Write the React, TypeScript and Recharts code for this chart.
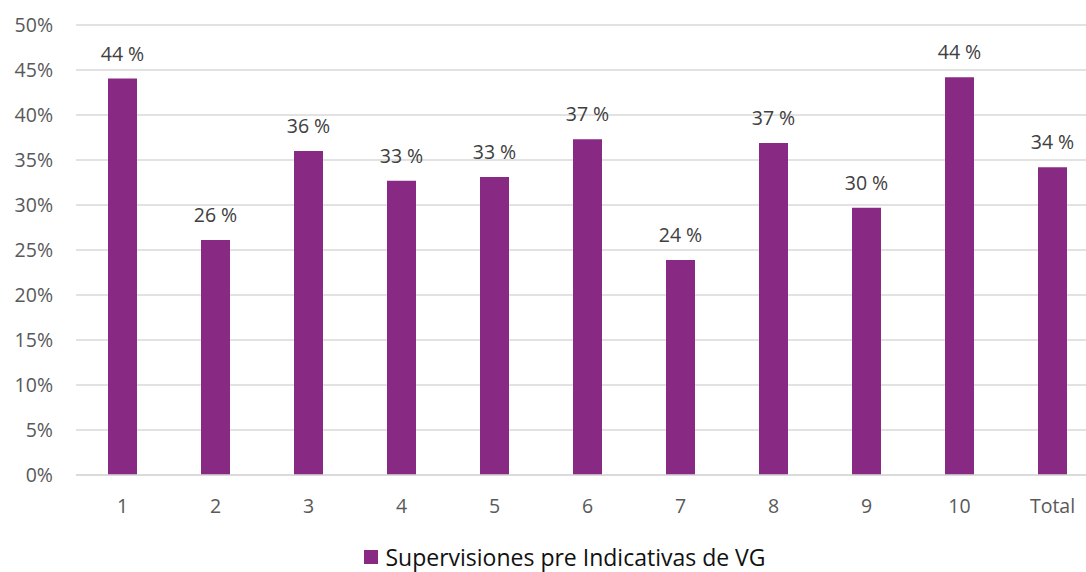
import { Bar, BarChart, CartesianGrid, LabelList, Legend, XAxis, YAxis } from "recharts"

const categories = ["1", "2", "3", "4", "5", "6", "7", "8", "9", "10", "Total"]
const supervisiones = [44.05, 26.1, 36.0, 32.7, 33.1, 37.3, 23.9, 36.9, 29.7, 44.2, 34.2]
const yTicks = [0, 5, 10, 15, 20, 25, 30, 35, 40, 45, 50]

const seriesName = "Supervisiones pre Indicativas de VG"
const barColor = "#882A84"
const font = "'Open Sans', sans-serif"

const data = categories.map((c, i) => ({ name: c, value: supervisiones[i] }))

function LegendBox() {
  return (
    <div
      style={{
        display: "flex",
        justifyContent: "center",
        alignItems: "center",
        height: 40,
        paddingTop: 9,
        boxSizing: "border-box",
        fontFamily: font,
        fontSize: 23,
        color: "#111",
      }}
    >
      <span style={{ display: "inline-block", width: 14, height: 14, background: barColor, marginRight: 7 }} />
      <span>{seriesName}</span>
    </div>
  )
}

function ValueLabel(props: any) {
  const { x, y, width, value } = props
  return (
    <text
      x={Number(x) + Number(width) / 2}
      y={Number(y) - 18}
      textAnchor="middle"
      fill="#404040"
      fontSize={19.5}
      fontFamily={font}
    >
      {`${Math.round(Number(value))} %`}
    </text>
  )
}

export default function App() {
  return (
    <div style={{ position: "absolute", left: 0, top: 0, width: 1086, height: 572, overflow: "hidden", background: "#fff" }}>
      <BarChart
        width={1130}
        height={572}
        data={data}
        margin={{ top: 25, right: 31, left: 0, bottom: 0 }}
        style={{ fontFamily: font }}
      >
        <CartesianGrid vertical={false} stroke="#d9d9d9" strokeWidth={1.5} />
        <XAxis
          dataKey="name"
          height={57}
          tickSize={0}
          tickMargin={24}
          axisLine={{ stroke: "#d9d9d9", strokeWidth: 1.5 }}
          tick={{ fill: "#595959", fontSize: 19.5, fontFamily: font }}
        />
        <YAxis
          width={76}
          domain={[0, 50]}
          ticks={yTicks}
          tickSize={0}
          tickMargin={23}
          axisLine={false}
          tickFormatter={(v) => `${v}%`}
          tick={{ fill: "#595959", fontSize: 19.5, fontFamily: font }}
        />
        <Legend
          verticalAlign="bottom"
          height={40}
          wrapperStyle={{ left: 0, width: 1130 }}
          content={() => <LegendBox />}
        />
        <Bar dataKey="value" name={seriesName} fill={barColor} barSize={29} isAnimationActive={false}>
          <LabelList dataKey="value" content={ValueLabel} />
        </Bar>
      </BarChart>
    </div>
  )
}
